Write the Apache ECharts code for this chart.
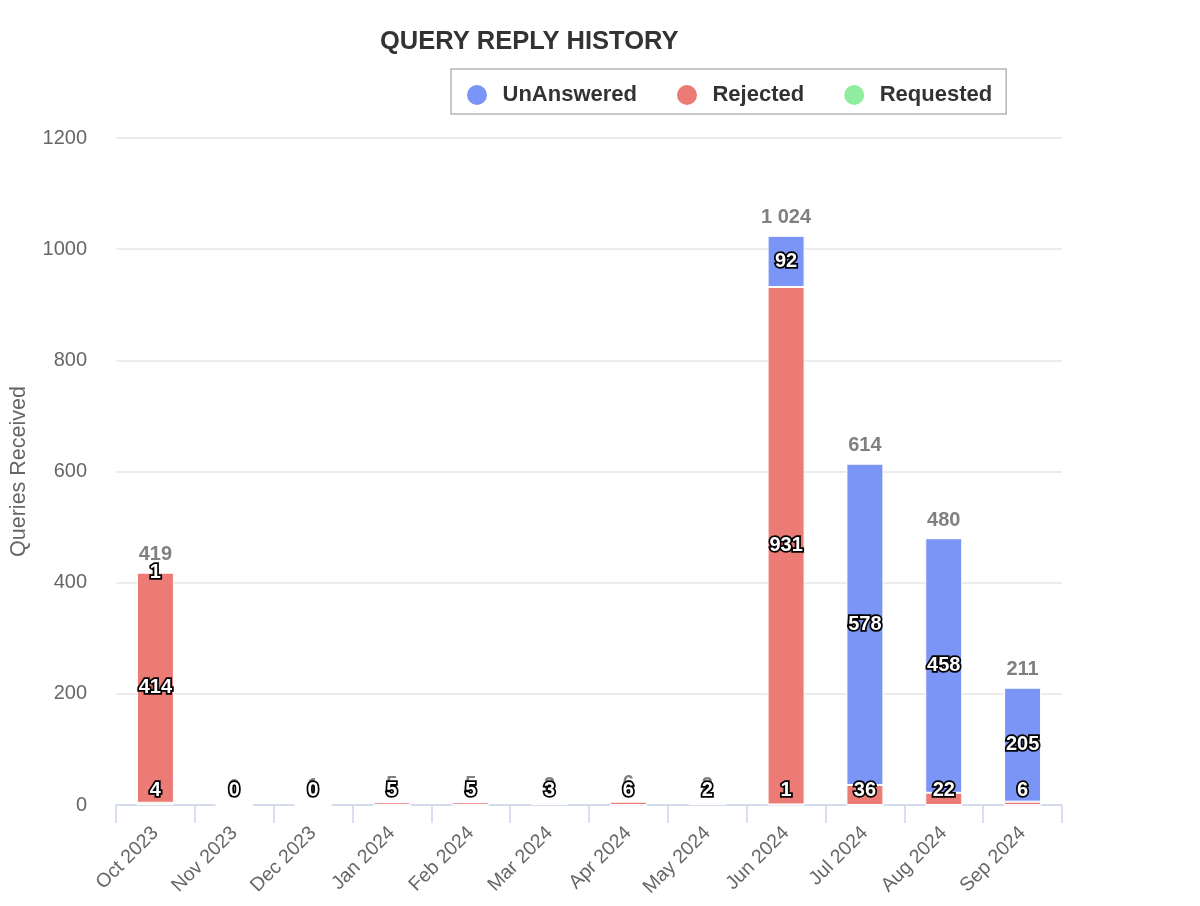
<!DOCTYPE html>
<html>
<head>
<meta charset="utf-8">
<title>Query Reply History</title>
<script src="https://cdn.jsdelivr.net/npm/echarts@6/dist/echarts.min.js"></script>
<style>
  html, body { margin: 0; padding: 0; background: #fff; }
  #topline { position: absolute; left: 0; top: 2px; width: 1200px; height: 2px; background: #e2e2e2; }
  #chart { width: 1200px; height: 906px; }
</style>
</head>
<body>
<div id="topline"></div>
<div id="chart"></div>
<script>
// months on the x axis
const months = ['Oct 2023', 'Nov 2023', 'Dec 2023', 'Jan 2024', 'Feb 2024', 'Mar 2024',
                'Apr 2024', 'May 2024', 'Jun 2024', 'Jul 2024', 'Aug 2024', 'Sep 2024'];

const unanswered = [1, 0, 1, 0, 0, 0, 0, 0, 92, 578, 458, 205];
const rejected   = [414, 0, 0, 5, 5, 0, 6, 0, 931, 36, 22, 6];
const requested  = [4, 0, 0, 0, 0, 3, 0, 2, 1, 0, 0, 0];
// stack totals printed above each bar
const totals     = [419, 0, 1, 5, 5, 3, 6, 2, 1024, 614, 480, 211];

const font = 'Liberation Sans, Arial, Helvetica, sans-serif';

const valueLabel = {
    show: true,
    color: '#fff',
    fontFamily: font,
    fontWeight: 'bold',
    fontSize: 20,
    textBorderColor: '#000',
    textBorderWidth: 3.5
};

// helper: turn a value into a data item with its own label placement
function item(v, show, pos) {
    return { value: v, label: { show: show, position: pos } };
}

const reqData = requested.map((v, i) => item(v, v > 0 || rejected[i] === 0, 'insideBottom'));
const rejData = rejected.map((v) => item(v, v > 0, v < 40 ? 'insideBottom' : 'inside'));
const unaData = unanswered.map((v, i) => item(v, v > 0 && totals[i] >= 50, 'inside'));

function fmtTotal(n) {
    return String(n).replace(/\B(?=(\d{3})+(?!\d))/g, ' ');
}

const barStyle = (c) => ({ color: c, borderColor: '#fff', borderWidth: 1 });

const chart = echarts.init(document.getElementById('chart'));
chart.setOption({
    animation: false,
    backgroundColor: '#fff',
    title: {
        text: 'QUERY REPLY HISTORY',
        left: 375,
        top: 24,
        textStyle: { fontFamily: font, fontWeight: 'bold', fontSize: 25.5, color: '#333' }
    },
    legend: {
        data: ['UnAnswered', 'Rejected', 'Requested'],
        left: 451,
        top: 69,
        icon: 'circle',
        itemWidth: 41,
        itemHeight: 22,
        itemGap: 38,
        padding: [14, 14, 7, 14],
        borderColor: '#b5b5b5',
        borderWidth: 1.5,
        textStyle: { fontFamily: font, fontWeight: 'bold', fontSize: 22, color: '#333' }
    },
    grid: { left: 110, right: 138, top: 138, bottom: 101, containLabel: false },
    xAxis: {
        type: 'category',
        data: months,
        axisLine: { lineStyle: { color: '#ccd6eb', width: 1.5 } },
        axisTick: { show: true, length: 18, alignWithLabel: false, lineStyle: { color: '#ccd6eb', width: 1.5 } },
        axisLabel: {
            rotate: 45,
            interval: 0,
            margin: 25,
            color: '#666',
            fontFamily: font,
            fontSize: 19.5
        }
    },
    yAxis: {
        type: 'value',
        min: 0,
        max: 1200,
        interval: 200,
        name: 'Queries Received',
        nameLocation: 'middle',
        nameGap: 86,
        nameTextStyle: { color: '#666', fontFamily: font, fontSize: 21.5 },
        axisLine: { show: false },
        axisTick: { show: false },
        axisLabel: {
            margin: 29,
            color: '#666',
            fontFamily: font,
            fontSize: 20,
            formatter: (v) => String(v)
        },
        splitLine: { lineStyle: { color: '#e6e6e6', width: 1.5 } }
    },
    series: [
        {
            name: 'Requested', type: 'bar', stack: 'q', barWidth: 37,
            itemStyle: barStyle('#90ed9f'),
            label: valueLabel,
            data: reqData
        },
        {
            name: 'Rejected', type: 'bar', stack: 'q', barWidth: 37,
            itemStyle: barStyle('#ec7b75'),
            label: valueLabel,
            data: rejData
        },
        {
            name: 'UnAnswered', type: 'bar', stack: 'q', barWidth: 37,
            itemStyle: barStyle('#7b95f7'),
            label: valueLabel,
            data: unaData
        },
        {
            // invisible cap that only carries the total label
            name: 'Total', type: 'bar', stack: 'q', barWidth: 37,
            itemStyle: { color: 'transparent' },
            z: 1,
            label: {
                show: true,
                position: 'top',
                distance: 8,
                color: '#808080',
                fontFamily: font,
                fontWeight: 'bold',
                fontSize: 20,
                formatter: (p) => fmtTotal(totals[p.dataIndex])
            },
            data: totals.map(() => 0)
        }
    ]
});
</script>
</body>
</html>
